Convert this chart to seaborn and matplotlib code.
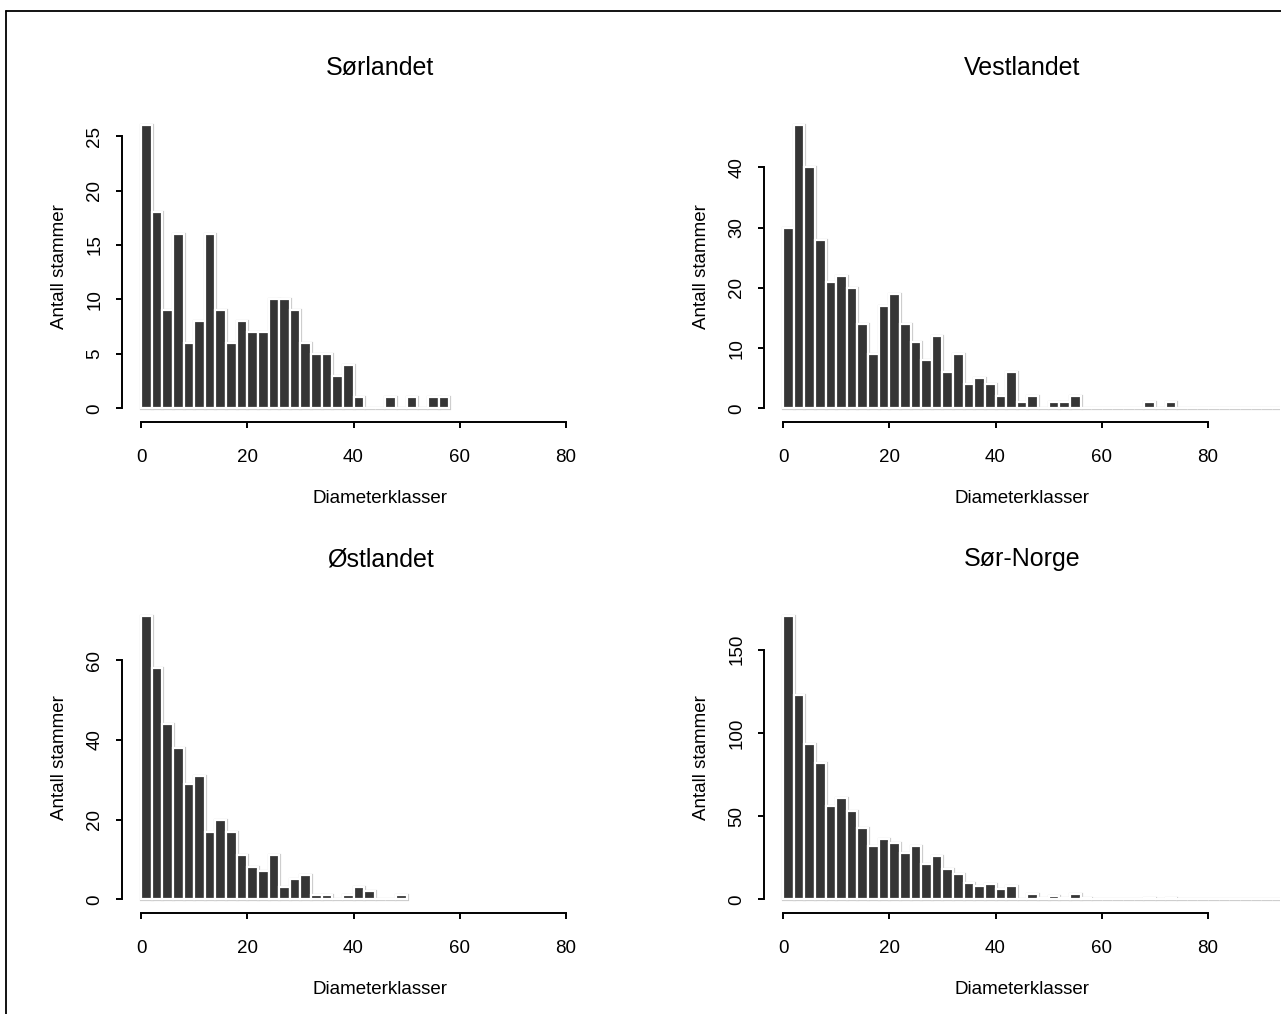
import numpy as np
import pandas as pd
import matplotlib
matplotlib.use('Agg')
import matplotlib.pyplot as plt
import seaborn as sns

sns.set_style('white')
plt.rcParams['font.family'] = ['Liberation Sans', 'DejaVu Sans']

# antall stammer per diameterklasse (2 cm klasser fra 0)
titles = ['Sørlandet', 'Vestlandet', 'Østlandet', 'Sør-Norge']

sorlandet = [26, 18, 9, 16, 6, 8, 16, 9, 6, 8, 7, 7, 10, 10, 9, 6, 5, 5, 3, 4,
             1, 0, 0, 1, 0, 1, 0, 1, 1]
vestlandet = [30, 47, 40, 28, 21, 22, 20, 14, 9, 17, 19, 14, 11, 8, 12, 6, 9, 4, 5, 4,
              2, 6, 1, 2, 0, 1, 1, 2, 0, 0, 0, 0, 0, 0, 1, 0, 1, 0, 0, 0,
              0, 0, 0, 0, 0, 0, 0, 0]
ostlandet = [71, 58, 44, 38, 29, 31, 17, 20, 17, 11, 8, 7, 11, 3, 5, 6, 1, 1, 0, 1,
             3, 2, 0, 0, 1]
sor_norge = [170, 123, 93, 82, 56, 61, 53, 43, 32, 36, 34, 28, 32, 21, 26, 18, 15, 10, 8, 9,
             6, 8, 0, 3, 1, 2, 1, 3, 1, 0, 0, 0, 0, 0, 1, 0, 1, 0, 0, 0,
             0, 0, 0, 0, 0, 0, 0, 0]

yticks = [[0, 5, 10, 15, 20, 25], [0, 10, 20, 30, 40], [0, 20, 40, 60], [0, 50, 100, 150]]
xticks = [0, 20, 40, 60, 80]
binwidth = 2

W, H = 1281, 1014
fig = plt.figure(figsize=(W / 100, H / 100), dpi=100)

# plot regions in pixels: left, top, right, bottom
boxes = [(121.9, 114, 638.3, 419.6), (763.9, 114, 1280.3, 419.6),
         (121.9, 605, 638.3, 910.6), (763.9, 605, 1280.3, 910.6)]

for i, counts in enumerate([sorlandet, vestlandet, ostlandet, sor_norge]):
    l, t, r, b = boxes[i]
    ax = fig.add_axes([l / W, (H - b) / H, (r - l) / W, (b - t) / H])
    nbins = len(counts)
    df = pd.DataFrame({'diam': np.arange(nbins) * binwidth + binwidth / 2,
                       'n': counts})
    # light grey outline first, then white borders on top
    sns.histplot(data=df, x='diam', weights='n', binwidth=binwidth,
                 binrange=(0, nbins * binwidth), ax=ax, color='#353535',
                 edgecolor='#c8c8c8', linewidth=2.3, alpha=1)
    sns.histplot(data=df, x='diam', weights='n', binwidth=binwidth,
                 binrange=(0, nbins * binwidth), ax=ax, color='#353535',
                 edgecolor='white', linewidth=1.6, alpha=1)
    top = max(counts)
    ax.set_xlim(-3.6, 93.6)
    ax.set_ylim(-0.04 * top, 1.04 * top)
    ax.set_xticks(xticks)
    ax.set_yticks(yticks[i])
    for s in ['top', 'right']:
        ax.spines[s].set_visible(False)
    ax.spines['bottom'].set_bounds(xticks[0], xticks[-1])
    ax.spines['left'].set_bounds(yticks[i][0], yticks[i][-1])
    ax.spines['bottom'].set_position(('outward', 1.5))
    for s in ['bottom', 'left']:
        ax.spines[s].set_linewidth(1.4)
        ax.spines[s].set_color('black')
    ax.tick_params(axis='both', direction='out', length=4.5, width=1.4,
                   bottom=True, left=True, labelsize=13.5, colors='black')
    ax.tick_params(axis='x', pad=15)
    ax.tick_params(axis='y', pad=9, labelrotation=90)
    for lab in ax.get_yticklabels():
        lab.set_va('center')
    ax.set_title(titles[i], fontsize=18, pad=28, color='black')
    ax.set_xlabel('Diameterklasser', fontsize=13.5, labelpad=17.5, color='black')
    ax.set_ylabel('Antall stammer', fontsize=13.5, labelpad=13, color='black')

# ramme rundt figuren
fig.add_artist(plt.Line2D([6 / W, 6 / W], [0, 1 - 11 / H], color='black', lw=1.3))
fig.add_artist(plt.Line2D([6 / W, 1], [1 - 11 / H, 1 - 11 / H], color='black', lw=1.3))

plt.savefig('out.png', dpi=100)
plt.close()
